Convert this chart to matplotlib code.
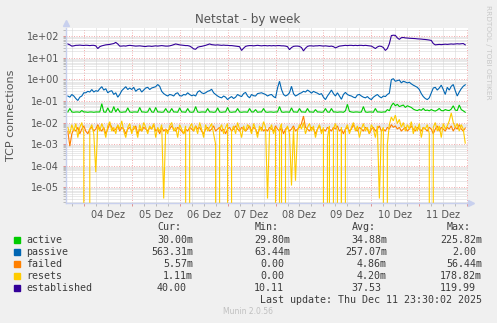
import numpy as np
import pandas as pd
import matplotlib
matplotlib.use("Agg")
import matplotlib.pyplot as plt
import matplotlib.dates as mdates
from matplotlib.patches import Rectangle
from matplotlib.ticker import LogLocator, FuncFormatter, NullFormatter

# hourly samples, Dec 3 16:00 .. Dec 11 23:00
established = [
    44, 40, 35, 36, 38, 38.2, 39, 38, 37.5, 38.5,
    38, 37, 38, 38, 36, 27, 33, 36, 38, 40,
    41, 42, 44, 46, 52, 44, 35, 35, 36, 35,
    37, 38, 37, 36, 35, 35.5, 36, 35, 34, 33.5,
    35, 35, 34, 35, 36, 35, 36, 37, 36, 35,
    35, 36, 38, 41, 44, 42, 40, 39, 38, 37,
    37, 35, 31, 26, 25, 31, 33, 34, 36, 38,
    41, 44, 41, 40, 39, 40, 39, 38, 39, 38,
    38, 37, 37, 36, 35, 34, 33, 22, 28, 34,
    36, 37, 37, 36, 37, 38, 37, 36, 37, 37,
    36, 37, 36, 37, 36, 37, 37, 36, 36, 35,
    33, 24, 30, 34, 35, 35, 34, 30, 21, 28,
    34, 36, 36, 35, 36, 36, 37, 36, 35, 36,
    35, 34, 35, 33, 29, 32, 35, 36, 37, 38,
    37, 38, 38, 37, 38, 37, 38, 38, 37, 38,
    37, 36, 35, 31, 27, 32, 35, 34, 30, 22,
    27, 45, 108, 112, 110, 84, 72, 86, 88, 84,
    83, 81, 80, 79, 78, 76, 75, 74, 72, 71,
    69, 67, 64, 46, 40, 41, 42, 41, 42, 43,
    42, 43, 44, 43, 44, 45, 44, 45, 46, 40,
]

passive = [
    0.17, 0.15, 0.20, 0.17, 0.13, 0.105, 0.15, 0.17, 0.24, 0.24,
    0.28, 0.26, 0.34, 0.26, 0.30, 0.28, 0.37, 0.46, 0.32, 0.37,
    0.24, 0.28, 0.30, 0.20, 0.24, 0.15, 0.20, 0.30, 0.37, 0.46,
    0.34, 0.40, 0.34, 0.43, 0.28, 0.34, 0.37, 0.26, 0.32, 0.40,
    0.43, 0.34, 0.40, 0.43, 0.46, 0.58, 0.48, 0.28, 0.22, 0.19,
    0.17, 0.20, 0.19, 0.17, 0.22, 0.24, 0.175, 0.17, 0.20, 0.19,
    0.24, 0.20, 0.175, 0.19, 0.17, 0.26, 0.30, 0.24, 0.22, 0.24,
    0.28, 0.30, 0.35, 0.24, 0.20, 0.17, 0.15, 0.14, 0.17, 0.15,
    0.116, 0.14, 0.16, 0.13, 0.15, 0.20, 0.175, 0.16, 0.22, 0.25,
    0.17, 0.14, 0.20, 0.175, 0.17, 0.22, 0.23, 0.24, 0.22, 0.20,
    0.17, 0.19, 0.20, 0.16, 0.14, 0.40, 0.82, 0.34, 0.20, 0.17,
    0.19, 0.24, 0.48, 0.22, 0.17, 0.19, 0.22, 0.24, 0.28, 0.26,
    0.32, 0.28, 0.23, 0.28, 0.25, 0.23, 0.20, 0.22, 0.15, 0.116,
    0.17, 0.23, 0.32, 0.22, 0.17, 0.24, 0.17, 0.12, 0.20, 0.25,
    0.20, 0.18, 0.17, 0.15, 0.14, 0.19, 0.20, 0.17, 0.15, 0.14,
    0.16, 0.13, 0.116, 0.15, 0.175, 0.20, 0.16, 0.14, 0.17, 0.16,
    0.20, 0.23, 0.98, 1.08, 0.82, 0.88, 0.94, 0.69, 0.82, 0.76,
    0.69, 0.74, 0.62, 0.54, 0.48, 0.43, 0.34, 0.22, 0.16, 0.13,
    0.116, 0.14, 0.24, 0.40, 0.43, 0.32, 0.40, 0.54, 0.34, 0.20,
    0.43, 0.32, 0.48, 0.58, 0.30, 0.17, 0.26, 0.37, 0.48, 0.563,
]

active = [
    0.031, 0.045, 0.031, 0.030, 0.031, 0.031, 0.030, 0.036, 0.031, 0.031,
    0.030, 0.031, 0.031, 0.030, 0.031, 0.031, 0.031, 0.075, 0.031, 0.030,
    0.048, 0.031, 0.030, 0.055, 0.031, 0.045, 0.031, 0.030, 0.031, 0.031,
    0.048, 0.031, 0.030, 0.031, 0.031, 0.030, 0.050, 0.031, 0.031, 0.030,
    0.031, 0.048, 0.031, 0.030, 0.050, 0.031, 0.031, 0.030, 0.031, 0.045,
    0.031, 0.030, 0.045, 0.031, 0.031, 0.030, 0.048, 0.031, 0.031, 0.030,
    0.045, 0.031, 0.030, 0.031, 0.055, 0.031, 0.030, 0.031, 0.031, 0.030,
    0.045, 0.031, 0.031, 0.030, 0.031, 0.048, 0.031, 0.030, 0.031, 0.031,
    0.050, 0.031, 0.030, 0.031, 0.031, 0.045, 0.031, 0.030, 0.031, 0.031,
    0.030, 0.045, 0.031, 0.031, 0.040, 0.030, 0.031, 0.031, 0.045, 0.031,
    0.030, 0.031, 0.031, 0.030, 0.031, 0.031, 0.055, 0.031, 0.030, 0.031,
    0.031, 0.030, 0.048, 0.031, 0.031, 0.030, 0.045, 0.031, 0.031, 0.030,
    0.045, 0.031, 0.031, 0.030, 0.040, 0.031, 0.031, 0.030, 0.031, 0.045,
    0.031, 0.030, 0.045, 0.031, 0.031, 0.030, 0.031, 0.031, 0.030, 0.035,
    0.070, 0.033, 0.031, 0.030, 0.031, 0.031, 0.030, 0.031, 0.055, 0.031,
    0.030, 0.031, 0.031, 0.030, 0.045, 0.031, 0.031, 0.030, 0.031, 0.031,
    0.040, 0.035, 0.060, 0.080, 0.060, 0.070, 0.055, 0.060, 0.065, 0.050,
    0.060, 0.055, 0.050, 0.042, 0.038, 0.036, 0.040, 0.037, 0.045, 0.036,
    0.038, 0.035, 0.040, 0.036, 0.034, 0.038, 0.045, 0.036, 0.035, 0.040,
    0.037, 0.036, 0.042, 0.060, 0.038, 0.036, 0.065, 0.040, 0.035, 0.030,
]

failed = [
    0.004, 0.0008, 0.003, 0.005, 0.004, 0.006, 0.003, 0.005, 0.007, 0.004,
    0.003, 0.005, 0.006, 0.004, 0.005, 0.008, 0.005, 0.004, 0.006, 0.003,
    0.005, 0.009, 0.006, 0.004, 0.005, 0.007, 0.004, 0.006, 0.005, 0.003,
    0.005, 0.006, 0.004, 0.005, 0.007, 0.003, 0.005, 0.004, 0.006, 0.005,
    0.004, 0.006, 0.005, 0.008, 0.004, 0.005, 0.003, 0.006, 0.004, 0.005,
    0.004, 0.005, 0.007, 0.005, 0.004, 0.006, 0.005, 0.004, 0.003, 0.005,
    0.004, 0.006, 0.005, 0.004, 0.007, 0.005, 0.006, 0.004, 0.003, 0.005,
    0.006, 0.004, 0.005, 0.007, 0.004, 0.005, 0.006, 0.004, 0.005, 0.003,
    0.005, 0.006, 0.004, 0.005, 0.007, 0.005, 0.004, 0.006, 0.005, 0.004,
    0.005, 0.007, 0.004, 0.006, 0.005, 0.003, 0.005, 0.006, 0.004, 0.005,
    0.004, 0.006, 0.005, 0.004, 0.007, 0.005, 0.004, 0.006, 0.003, 0.005,
    0.006, 0.004, 0.005, 0.007, 0.004, 0.005, 0.006, 0.009, 0.020, 0.006,
    0.005, 0.004, 0.006, 0.005, 0.003, 0.005, 0.007, 0.004, 0.005, 0.004,
    0.006, 0.005, 0.004, 0.006, 0.005, 0.007, 0.004, 0.005, 0.003, 0.005,
    0.006, 0.004, 0.005, 0.008, 0.005, 0.004, 0.006, 0.005, 0.004, 0.006,
    0.005, 0.003, 0.005, 0.006, 0.004, 0.005, 0.007, 0.004, 0.005, 0.004,
    0.006, 0.005, 0.008, 0.006, 0.007, 0.005, 0.006, 0.004, 0.005, 0.006,
    0.004, 0.005, 0.007, 0.005, 0.004, 0.006, 0.005, 0.004, 0.006, 0.005,
    0.004, 0.006, 0.005, 0.003, 0.005, 0.007, 0.004, 0.006, 0.005, 0.004,
    0.006, 0.005, 0.007, 0.004, 0.006, 0.005, 0.008, 0.005, 0.004, 0.00557,
]

resets = [
    0.006, 0.003, 0.008, 0.004, 0.009, 0.002, 0.006, 0.010, 0.003, 0,
    0, 0.005, 0.008, 0.003, 0.00005, 0.007, 0.004, 0.009, 0.005, 0.002,
    0.007, 0.011, 0.004, 0.006, 0.003, 0.008, 0.005, 0.012, 0.004, 0.002,
    0.006, 0.009, 0.003, 0.007, 0.005, 0.002, 0.008, 0.004, 0.010, 0.006,
    0.003, 0.007, 0.005, 0.009, 0.002, 0.006, 0.004, 0.008, 0.000003, 0.005,
    0.003, 0.007, 0.010, 0.004, 0.006, 0.002, 0.008, 0.005, 0.003, 0.007,
    0, 0.006, 0.009, 0.004, 0.007, 0.003, 0.010, 0.005, 0.002, 0.008,
    0.004, 0.006, 0.009, 0.003, 0.001, 0, 0.005, 0.008, 0.003, 0.006,
    0.009, 0, 0.004, 0.007, 0.003, 0.010, 0.005, 0.002, 0.007, 0.004,
    0.008, 0.006, 0.003, 0.009, 0.005, 0.002, 0.007, 0.004, 0.011, 0.006,
    0.000003, 0.004, 0.008, 0.003, 0.006, 0, 0.005, 0.009, 0, 0.004,
    0.007, 0.003, 0.000012, 0.006, 0.00002, 0.004, 0.008, 0.005, 0.010, 0.003,
    0.006, 0.009, 0.004, 0.007, 0.002, 0.005, 0.008, 0.003, 0.006, 0,
    0.002, 0.007, 0, 0.005, 0.009, 0.004, 0, 0.006, 0, 0.005,
    0.008, 0.003, 0.006, 0.010, 0.004, 0.007, 0.002, 0.005, 0.009, 0.004,
    0.006, 0.003, 0.008, 0.005, 0.002, 0.007, 0.000003, 0.004, 0.006, 0,
    0.001, 0.008, 0.018, 0.012, 0.022, 0.009, 0.014, 0.006, 0.010, 0.004,
    0.008, 0.005, 0.011, 0.003, 0.007, 0.004, 0.009, 0.002, 0.006, 0.005,
    0.008, 0.003, 0, 0.006, 0.010, 0.004, 0.007, 0.002, 0.009, 0.005,
    0.007, 0.012, 0.028, 0.010, 0.006, 0.009, 0.004, 0.008, 0.005, 0.00111,
]

names = ["active", "passive", "failed", "resets", "established"]
colors = ["#00cc00", "#0066b3", "#ff8000", "#ffcc00", "#330099"]
cur = ["30.00m", "563.31m", "5.57m", "1.11m", "40.00"]
vmin = ["29.80m", "63.44m", "0.00", "0.00", "10.11"]
avg = ["34.88m", "257.07m", "4.86m", "4.20m", "37.53"]
vmax = ["225.82m", "2.00", "56.44m", "178.82m", "119.99"]

times = pd.date_range("2025-12-03 16:00", periods=len(established), freq="h")

W, H = 497, 323
fig = plt.figure(figsize=(W / 100, H / 100), dpi=100, facecolor="#f0f0f0")

def fx(px):
    return px / W

def fy(py):
    return 1 - py / H

ax = fig.add_axes([fx(66), fy(203), fx(402), 175 / H])
ax.set_facecolor("white")

for series, c in zip([active, passive, failed, resets, established], colors):
    ax.plot(times, series, color=c, lw=0.8, solid_joinstyle="miter")

ax.set_yscale("log")
ax.set_ylim(1.86e-6, 242)
ax.set_xlim(pd.Timestamp("2025-12-03 15:05"), pd.Timestamp("2025-12-12 00:23"))

# y grid: decades red, 2..9 grey
ax.yaxis.set_major_locator(LogLocator(base=10, numticks=20))
ax.yaxis.set_minor_locator(LogLocator(base=10, subs=np.arange(2, 10), numticks=20))
ax.yaxis.set_major_formatter(FuncFormatter(lambda v, p: f"{v:.0e}"))
ax.yaxis.set_minor_formatter(NullFormatter())

# x grid: midnight red, every 6h grey, labels at noon
ax.xaxis.set_major_locator(mdates.DayLocator())
ax.xaxis.set_major_formatter(NullFormatter())
ax.xaxis.set_minor_locator(mdates.HourLocator(byhour=[6, 12, 18]))
ax.xaxis.set_minor_formatter(FuncFormatter(
    lambda v, p: mdates.num2date(v).strftime("%d Dez") if mdates.num2date(v).hour == 12 else ""))

ax.grid(which="minor", color="#d4d4d4", lw=0.72, ls=(0, (1, 1)))
ax.grid(which="major", color="#f4b0b0", lw=0.72, ls=(0, (1, 1.5)))
ax.set_axisbelow(True)

ax.tick_params(which="both", length=2, width=0.7, labelsize=7, labelcolor="#555555", pad=3)
ax.tick_params(which="major", color="#e09090")
ax.tick_params(which="minor", color="#bbbbbb")

for s in ["top", "right"]:
    ax.spines[s].set_visible(False)
for s in ["left", "bottom"]:
    ax.spines[s].set_color("#c8d0ee")
    ax.spines[s].set_linewidth(1)
ax.plot([0], [1.03], marker="^", ms=5, color="#c8d0ee", transform=ax.transAxes, clip_on=False)
ax.plot([1.008], [0], marker=">", ms=5, color="#c8d0ee", transform=ax.transAxes, clip_on=False)

fig.text(fx(248), fy(20), "Netstat - by week", ha="center", va="center",
         fontsize=8.6, color="#555555")
fig.text(fx(11), fy(115), "TCP connections", rotation=90, ha="center", va="center",
         fontsize=8, color="#555555")
fig.text(fx(488), fy(5), "RRDTOOL / TOBI OETIKER", rotation=270, ha="center", va="top",
         fontsize=5.3, color="#c8c8c8")

mono = dict(family="DejaVu Sans Mono", fontsize=7.2, color="#3c3c3c", va="center")
col_end = [193, 290, 387, 482]
char_w = 6.0

for head, xe in zip(["Cur:", "Min:", "Avg:", "Max:"], col_end):
    fig.text(fx(xe - 11.5), fy(227), head, ha="right", **mono)

row_y = [240, 252, 264, 276, 288]
for i, name in enumerate(names):
    y = row_y[i]
    fig.add_artist(Rectangle((fx(14), fy(y + 3)), fx(6), 6 / H,
                             transform=fig.transFigure, color=colors[i]))
    fig.text(fx(26.5), fy(y), name, ha="left", **mono)
    for vals, xe in zip([cur, vmin, avg, vmax], col_end):
        s = vals[i]
        xr = xe if s.endswith("m") else xe - char_w
        fig.text(fx(xr), fy(y), s, ha="right", **mono)

fig.text(fx(482), fy(300), "Last update: Thu Dec 11 23:30:02 2025", ha="right", **mono)
fig.text(fx(248), fy(312), "Munin 2.0.56", ha="center", va="center",
         fontsize=5.5, color="#c0c0c0")

fig.savefig("out.png", dpi=100, facecolor=fig.get_facecolor())
